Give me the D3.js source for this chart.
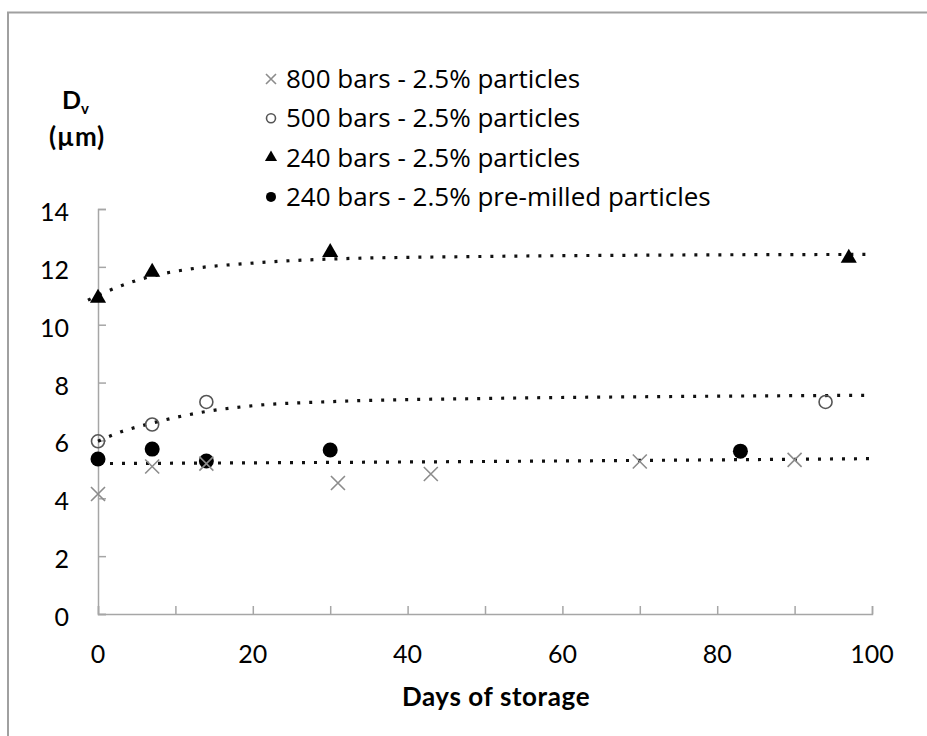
<!DOCTYPE html>
<html>
<head>
<meta charset="utf-8">
<script src="https://cdn.jsdelivr.net/npm/d3@7"></script>
<style>
  body { margin: 0; background: #fff; overflow: hidden; }
  svg { display: block; font-family: Lato, "Open Sans", sans-serif; }
</style>
</head>
<body>
<svg></svg>
<script>
// days / diameters
let cross800 = [[0, 4.15], [7, 5.1], [14, 5.2], [31, 4.53], [43, 4.84], [70, 5.27], [90, 5.33]];
let circle500 = [[0, 5.97], [7, 6.55], [14, 7.33], [94, 7.33]];
let tri240 = [[0, 10.92], [7, 11.82], [30, 12.5], [97, 12.3]];
let dot240 = [[0, 5.36], [7, 5.7], [14, 5.29], [30, 5.67], [83, 5.63]];

// dotted trend lines
let trendTri = [[-1.3, 10.85], [3, 11.35], [7, 11.68], [12, 11.93], [20, 12.13], [30, 12.27], [50, 12.36], [75, 12.41], [100, 12.43]];
let trendCircle = [[0, 5.97], [3, 6.3], [7, 6.6], [14, 7.0], [20, 7.2], [30, 7.34], [50, 7.45], [75, 7.52], [100, 7.56]];
let trendLow = [[0, 5.2], [30, 5.24], [60, 5.29], [100, 5.37]];

let legendLabels = ['800 bars - 2.5% particles', '500 bars - 2.5% particles',
                    '240 bars - 2.5% particles', '240 bars - 2.5% pre-milled particles'];
let xTicks = [0, 20, 40, 60, 80, 100];
let xMinor = [10, 30, 50, 70, 90];
let yTicks = [0, 2, 4, 6, 8, 10, 12, 14];

let width = 927;
let height = 736;
let plotLeft = 98, plotRight = 872, plotTop = 209, plotBottom = 614;
let axisColor = '#a6a6a6';

let svg = d3.select('svg').attr('width', width).attr('height', height);

// outer frame: only the top and left edges fall inside the picture
svg.append('path')
   .attr('d', `M8,${height}V12.5H${width}`)
   .attr('fill', 'none')
   .attr('stroke', '#a0a0a0')
   .attr('stroke-width', 2);

let x = d3.scaleLinear().domain([0, 100]).range([plotLeft, plotRight]);
let y = d3.scaleLinear().domain([0, 14]).range([plotBottom, plotTop]);

// axes, ticks pointing inward like the original
let xAxis = d3.axisTop(x).tickValues(xTicks.concat(xMinor)).tickSize(8).tickFormat('').tickSizeOuter(8);
let yAxis = d3.axisRight(y).tickValues(yTicks).tickSize(8).tickFormat('').tickSizeOuter(8);

let gx = svg.append('g').attr('transform', 'translate(0,' + plotBottom + ')').call(xAxis);
let gy = svg.append('g').attr('transform', 'translate(' + plotLeft + ',0)').call(yAxis);
[gx, gy].forEach(g => {
  g.selectAll('path, line').attr('stroke', axisColor).attr('stroke-width', 1.5);
});

// tick labels
svg.append('g').selectAll('text')
   .data(xTicks).enter().append('text')
   .attr('x', d => x(d)).attr('y', 663)
   .attr('text-anchor', 'middle')
   .attr('font-size', 25)
   .text(d => d);
svg.append('g').selectAll('text')
   .data(yTicks).enter().append('text')
   .attr('x', 69).attr('y', d => y(d) + 12)
   .attr('text-anchor', 'end')
   .attr('font-size', 25)
   .text(d => d);

// axis titles
svg.append('text')
   .attr('x', 496).attr('y', 706)
   .attr('text-anchor', 'middle')
   .attr('font-size', 26).attr('font-weight', 'bold')
   .attr('letter-spacing', 0.6)
   .text('Days of storage');
let dv = svg.append('text')
   .attr('x', 62).attr('y', 109)
   .attr('font-size', 25).attr('font-weight', 'bold');
dv.append('tspan').text('D');
dv.append('tspan').attr('font-size', 15).attr('dy', 5).text('v');
svg.append('text')
   .attr('x', 77).attr('y', 146)
   .attr('text-anchor', 'middle')
   .attr('font-size', 26).attr('font-weight', 'bold')
   .attr('letter-spacing', 0.8)
   .text('(µm)');

// trend lines
let line = d3.line().x(d => x(d[0])).y(d => y(d[1])).curve(d3.curveMonotoneX);
[trendTri, trendCircle, trendLow].forEach(t => {
  svg.append('path')
     .attr('d', line(t))
     .attr('fill', 'none')
     .attr('stroke', '#111')
     .attr('stroke-width', 3.2)
     .attr('stroke-dasharray', '3 9');
});

// marker painters
let drawCross = (g, s) => g.append('path')
  .attr('d', `M${-s},${-s}L${s},${s}M${-s},${s}L${s},${-s}`)
  .attr('stroke', '#8c8c8c').attr('stroke-width', 1.6).attr('fill', 'none');
let drawOpen = (g, r) => g.append('circle').attr('r', r)
  .attr('fill', 'none').attr('stroke', '#555').attr('stroke-width', 1.6);
let drawTri = (g, s) => g.append('path')
  .attr('d', d3.symbol(d3.symbolTriangle, s * s * 0.44)())
  .attr('fill', '#000');
let drawDot = (g, r) => g.append('circle').attr('r', r).attr('fill', '#000');

let painters = [drawCross, drawOpen, drawTri, drawDot];
let plotSizes = [7, 6.5, 16, 7.5];
let legendSizes = [5, 4.5, 12, 5];

let series = [cross800, circle500, tri240, dot240];
// draw dots and triangles first, then open circles and crosses on top
[3, 2, 1, 0].forEach(i => {
  svg.append('g').selectAll('g')
     .data(series[i]).enter().append('g')
     .attr('transform', d => `translate(${x(d[0])},${y(d[1])})`)
     .each(function () { painters[i](d3.select(this), plotSizes[i]); });
});

// legend
let legend = svg.append('g');
legendLabels.forEach((label, i) => {
  let cy = 79 + i * 39.3;
  let m = legend.append('g').attr('transform', `translate(271,${cy})`);
  painters[i](m, legendSizes[i]);
  legend.append('text')
        .attr('x', 286).attr('y', cy + 9)
        .attr('font-family', '"Open Sans", sans-serif')
        .attr('font-size', 26)
        .text(label);
});
</script>
</body>
</html>
